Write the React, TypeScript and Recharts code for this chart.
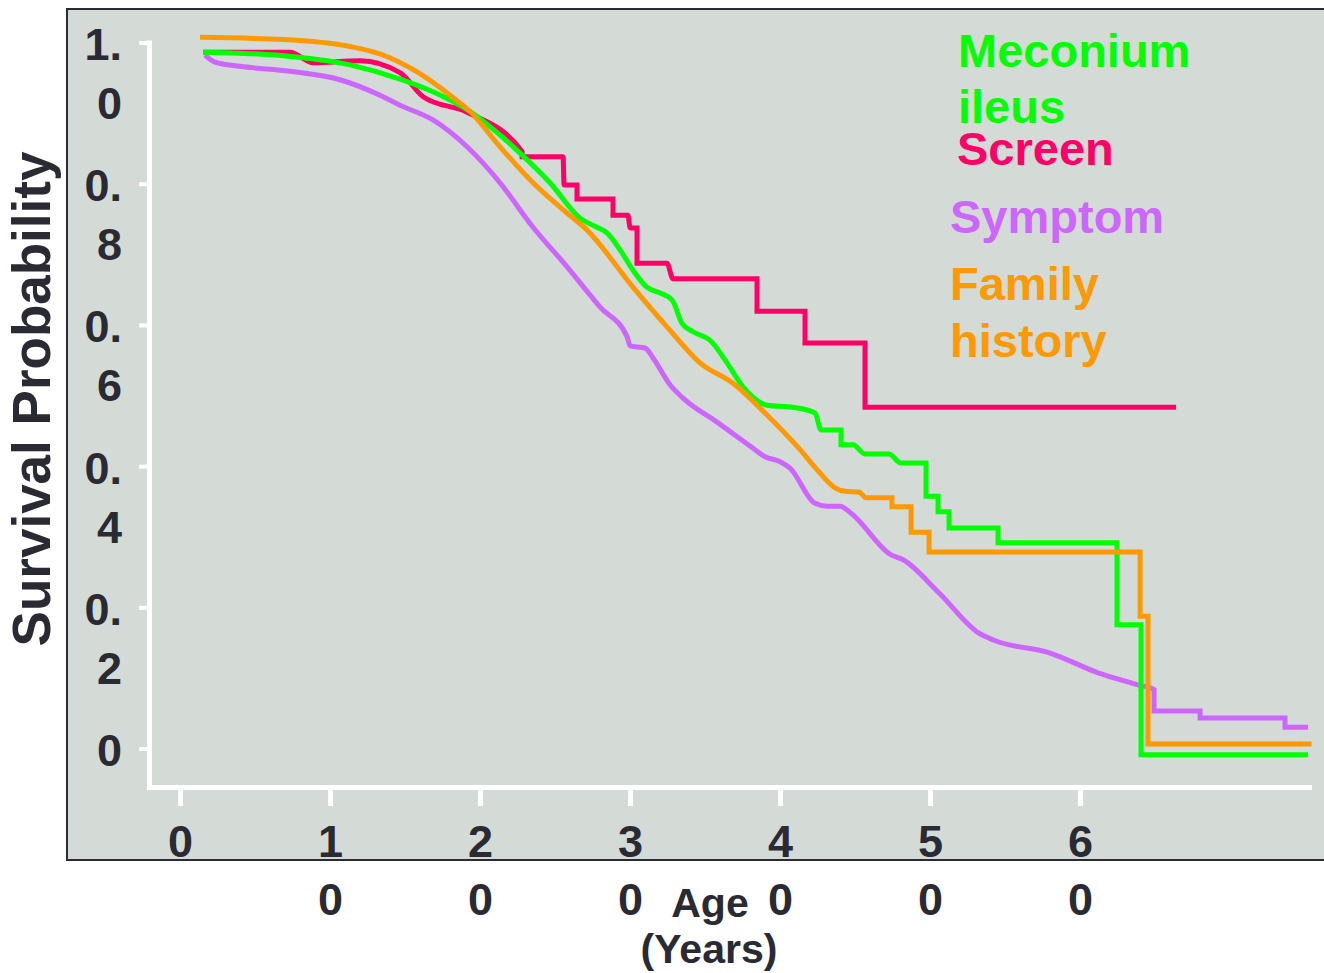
import React from 'react';
import { LineChart, Line, XAxis, YAxis, ReferenceLine } from 'recharts';

// ---- data (age in years, survival probability) ----
const screenAge = [1.5, 7.3, 8.83, 11.97, 14.63, 16.17, 19.1, 22.77, 22.77, 25.5, 25.57, 26.43, 26.43, 28.83, 28.83, 29.83, 29.97, 30.43, 30.43, 32.43, 32.83, 38.43, 38.43, 41.63, 41.63, 45.63, 45.63, 66.37];
const screenSurv = [0.987, 0.987, 0.972, 0.975, 0.958, 0.924, 0.902, 0.846, 0.839, 0.839, 0.799, 0.799, 0.779, 0.779, 0.756, 0.756, 0.738, 0.738, 0.688, 0.688, 0.666, 0.666, 0.62, 0.62, 0.575, 0.575, 0.484, 0.484];

const symptomAge = [1.63, 2.3, 3.97, 7.3, 10.63, 13.3, 14.63, 16.83, 19.1, 21.3, 23.5, 25.77, 27.97, 29.77, 29.97, 30.97, 31.5, 32.63, 33.5, 35.77, 38.17, 38.97, 39.97, 40.63, 42.3, 43.1, 43.97, 44.7, 47.37, 48.17, 50.57, 53.23, 54.23, 57.97, 61.17, 63.83, 64.9, 64.9, 67.97, 67.97, 73.63, 73.63, 75.17];
const symptomSurv = [0.983, 0.973, 0.967, 0.96, 0.948, 0.926, 0.912, 0.891, 0.853, 0.802, 0.739, 0.683, 0.626, 0.584, 0.571, 0.568, 0.554, 0.516, 0.497, 0.463, 0.426, 0.414, 0.407, 0.398, 0.348, 0.344, 0.344, 0.334, 0.275, 0.268, 0.221, 0.164, 0.154, 0.136, 0.108, 0.091, 0.084, 0.054, 0.054, 0.044, 0.044, 0.031, 0.031];

const meconiumAge = [1.5, 6.83, 11.3, 14.63, 16.83, 19.3, 22.63, 24.63, 26.63, 27.77, 28.43, 29.3, 30.17, 31.1, 31.97, 32.77, 33.43, 34.17, 35.3, 36.43, 37.5, 39.1, 40.83, 42.3, 42.7, 44.03, 44.03, 44.83, 45.63, 47.23, 48.03, 49.7, 49.7, 50.5, 50.5, 51.23, 51.23, 54.5, 54.5, 62.43, 62.43, 64.03, 64.03, 75.17];
const meconiumSurv = [0.987, 0.982, 0.969, 0.949, 0.931, 0.903, 0.844, 0.802, 0.752, 0.739, 0.731, 0.707, 0.678, 0.654, 0.646, 0.636, 0.603, 0.591, 0.579, 0.547, 0.513, 0.487, 0.484, 0.476, 0.452, 0.452, 0.431, 0.431, 0.418, 0.418, 0.405, 0.405, 0.358, 0.358, 0.336, 0.336, 0.313, 0.313, 0.292, 0.292, 0.176, 0.176, -0.008, -0.008];

const familyAge = [1.3, 6.83, 11.3, 13.5, 15.77, 17.97, 19.3, 21.3, 23.5, 25.77, 27.1, 30.17, 32.43, 34.63, 36.83, 39.1, 41.3, 42.3, 43.63, 44.3, 45.23, 45.7, 47.43, 47.43, 48.7, 48.7, 49.9, 49.9, 63.97, 63.97, 64.5, 64.5, 75.4];
const familySurv = [1.008, 1.005, 0.995, 0.983, 0.959, 0.926, 0.903, 0.853, 0.802, 0.759, 0.735, 0.654, 0.598, 0.547, 0.518, 0.473, 0.424, 0.399, 0.37, 0.365, 0.364, 0.356, 0.356, 0.343, 0.343, 0.307, 0.307, 0.279, 0.279, 0.188, 0.188, 0.007, 0.007];

const seriesNames = ['Screen', 'Symptom', 'Meconium ileus', 'Family history'];
const seriesColors = ['#ff0066', '#cc66ff', '#00ff00', '#ff9900'];

const xTicks = [0, 10, 20, 30, 40, 50, 60];
const xTickLabels = ['0', '10', '20', '30', '40', '50', '60'];
const yTicks = [0, 0.2, 0.4, 0.6, 0.8, 1.0];
const yTickLabels = ['0', '0.2', '0.4', '0.6', '0.8', '1.0'];

const yTitle = 'Survival Probability';
const xTitleLines = ['Age', '(Years)'];

// ---- build tables ----
const zip = (a: number[], b: number[]) => a.map((t, i) => ({ t, v: b[i] }));
const seriesData = [
  zip(screenAge, screenSurv),
  zip(symptomAge, symptomSurv),
  zip(meconiumAge, meconiumSurv),
  zip(familyAge, familySurv),
];

const FONT = '"Liberation Sans", Arial, Helvetica, sans-serif';
const TEXT = '#2a2a33';
const X_MIN = -2.07;
const X_MAX = 75.43;
const Y_MIN = -0.0545;
const Y_MAX = 1.02;

const XTick = (props: any) => {
  const { x, y, payload } = props;
  const idx = xTicks.indexOf(payload.value);
  const label = idx >= 0 ? xTickLabels[idx] : String(payload.value);
  return (
    <g>
      {label.split('').map((c, i) => (
        <text key={i} x={x} y={y + 51 + i * 58} textAnchor="middle" fontFamily={FONT} fontWeight="bold" fontSize={45} fill={TEXT}>
          {c}
        </text>
      ))}
    </g>
  );
};

const YTick = (props: any) => {
  const { x, y, payload } = props;
  const idx = yTicks.findIndex((t) => Math.abs(t - payload.value) < 1e-9);
  const label = idx >= 0 ? yTickLabels[idx] : String(payload.value);
  const dot = label.indexOf('.');
  const lines = dot >= 0 ? [label.slice(0, dot + 1), label.slice(dot + 1)] : [label];
  return (
    <g>
      {lines.map((c, i) => (
        <text key={i} x={x - 17} y={y + 17 + i * 59} textAnchor="end" fontFamily={FONT} fontWeight="bold" fontSize={45} fill={TEXT}>
          {c}
        </text>
      ))}
    </g>
  );
};

// legend layout: [x, first baseline] per series, line gap 56.7
const legendPos: Record<string, [number, number]> = {
  'Meconium ileus': [958, 66.7],
  Screen: [957, 165],
  Symptom: [950, 233.3],
  'Family history': [950, 300],
};

export default function App() {
  return (
    <div style={{ position: 'absolute', left: 0, top: 0, width: 1324, height: 973, background: '#ffffff', overflow: 'hidden' }}>
      <div
        style={{
          position: 'absolute',
          left: 66,
          top: 8,
          width: 1290,
          height: 849,
          background: '#d4dad6',
          border: '2px solid #2b2b33',
        }}
      />
      <div style={{ position: 'absolute', left: 0, top: 0 }}>
        <LineChart width={1324} height={973} margin={{ top: 28.9, right: 12, bottom: 65.5, left: 69.5 }}>
          <XAxis
            type="number"
            dataKey="t"
            domain={[X_MIN, X_MAX]}
            allowDataOverflow
            ticks={xTicks}
            interval={0}
            height={120}
            axisLine={{ stroke: '#ffffff', strokeWidth: 5 }}
            tickLine={{ stroke: '#ffffff', strokeWidth: 5 }}
            tickSize={18.5}
            tickMargin={0}
            tick={<XTick />}
          />
          <YAxis
            type="number"
            dataKey="v"
            domain={[Y_MIN, Y_MAX]}
            allowDataOverflow
            ticks={yTicks}
            interval={0}
            width={80}
            axisLine={false}
            tickLine={{ stroke: '#ffffff', strokeWidth: 4 }}
            tickSize={10.5}
            tickMargin={0}
            tick={<YTick />}
          />
          <ReferenceLine
            segment={[{ x: X_MIN, y: Y_MIN }, { x: X_MIN, y: 1.0 }]}
            stroke="#ffffff"
            strokeWidth={5}
            strokeLinecap="square"
            ifOverflow="visible"
          />
          {seriesData.map((d, i) => (
            <Line
              key={seriesNames[i]}
              data={d}
              dataKey="v"
              name={seriesNames[i]}
              type="monotone"
              stroke={seriesColors[i]}
              strokeWidth={5}
              dot={false}
              activeDot={false}
              isAnimationActive={false}
            />
          ))}
        </LineChart>
      </div>
      <svg width={1324} height={973} style={{ position: 'absolute', left: 0, top: 0, pointerEvents: 'none' }}>
        <text
          x={50}
          y={399}
          transform="rotate(-90 50 399)"
          textAnchor="middle"
          fontFamily={FONT}
          fontWeight="bold"
          fontSize={53}
          fill={TEXT}
        >
          {yTitle}
        </text>
        <text x={710} y={917} textAnchor="middle" fontFamily={FONT} fontWeight="bold" fontSize={41} fill={TEXT}>
          {xTitleLines[0]}
        </text>
        <text x={709} y={963} textAnchor="middle" fontFamily={FONT} fontWeight="bold" fontSize={41} fill={TEXT}>
          {xTitleLines[1]}
        </text>
        {seriesNames.map((name, i) => {
          const [lx, ly] = legendPos[name];
          return name.split(' ').map((w, j) => (
            <text key={name + j} x={lx} y={ly + j * 56.7} fontFamily={FONT} fontWeight="bold" fontSize={47} fill={seriesColors[i]}>
              {w}
            </text>
          ));
        })}
      </svg>
    </div>
  );
}
